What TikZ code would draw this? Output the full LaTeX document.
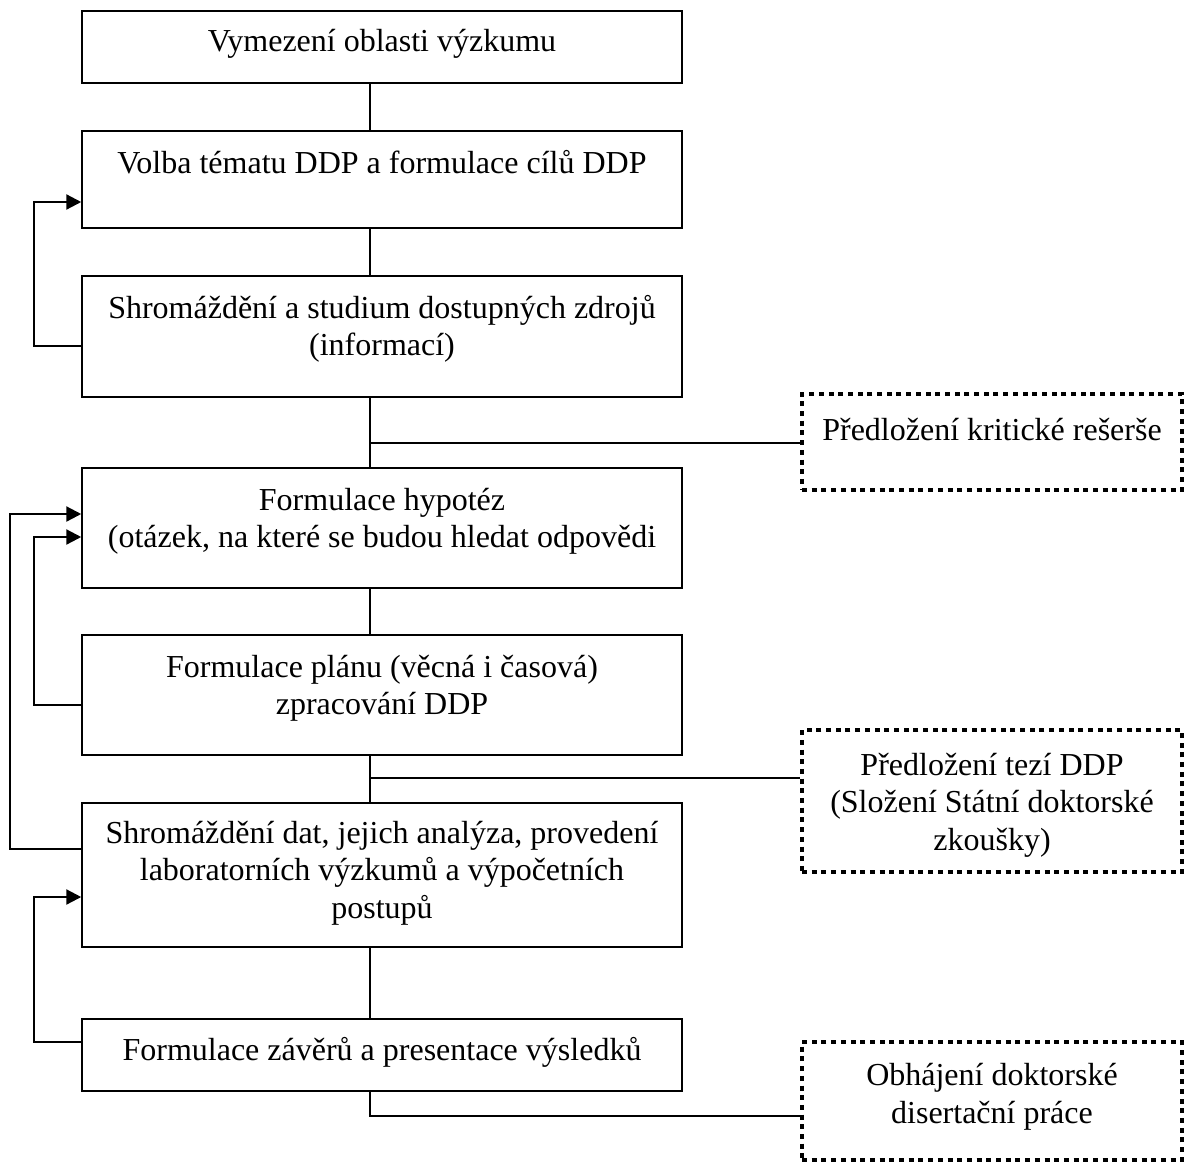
\documentclass[tikz,border=0pt]{standalone}
\usepackage{fontspec}
\setmainfont{Liberation Serif}
\usetikzlibrary{arrows.meta}
\tikzset{
  box/.style={draw=black, line width=1.5pt, minimum width=600pt, inner sep=0pt, fill=white},
  dbox/.style={draw=black, line width=4pt, dash pattern=on 5pt off 4.7pt, minimum width=380pt, inner sep=0pt},
  txt/.style={font=\fontsize{32}{37.5}\selectfont, align=center, inner sep=0pt, anchor=base},
  conn/.style={draw=black, line width=1.4pt},
  fb/.style={draw=black, line width=2.3pt, -{Triangle[length=15pt,width=15pt]}},
}
\begin{document}
\begin{tikzpicture}[x=1pt,y=-1pt]
\useasboundingbox[fill=white] (0,0) rectangle (1185,1162);
\coordinate (spine) at (370,0);
% main boxes
\node[box, minimum height=72pt]  (b1) at (382,47) {};
\node[box, minimum height=97pt]  (b2) at (382,179.5) {};
\node[box, minimum height=121pt] (b3) at (382,336.5) {};
\node[box, minimum height=120pt] (b4) at (382,528) {};
\node[box, minimum height=120pt] (b5) at (382,695) {};
\node[box, minimum height=144pt] (b6) at (382,875) {};
\node[box, minimum height=72pt]  (b7) at (382,1055) {};
% dotted boxes
\node[dbox, minimum height=96pt]  (d1) at (992,442) {};
\node[dbox, minimum height=142pt] (d2) at (992,801) {};
\node[dbox, minimum height=118pt] (d3) at (992,1101) {};
% texts (anchor base = baseline of the last line)
\node[txt] (t1) at (382,51) {Vymezení oblasti výzkumu};
\node[txt] (t2) at (382,173) {Volba tématu DDP a formulace cílů DDP};
\node[txt] (t3) at (382,355.5) {Shromáždění a studium dostupných zdrojů\\(informací)};
\node[txt] (t4) at (382,547.5) {Formulace hypotéz\\(otázek, na které se budou hledat odpovědi};
\node[txt] (t5) at (382,714.5) {Formulace plánu (věcná i časová)\\zpracování DDP};
\node[txt] (t6) at (382,918) {Shromáždění dat, jejich analýza, provedení\\laboratorních výzkumů a výpočetních\\postupů};
\node[txt] (t7) at (382,1060) {Formulace závěrů a presentace výsledků};
\node[txt] (u1) at (992,440) {Předložení kritické rešerše};
\node[txt] (u2) at (992,850) {Předložení tezí DDP\\(Složení Státní doktorské\\zkoušky)};
\node[txt] (u3) at (992,1123) {Obhájení doktorské\\disertační práce};
% spine connectors
\draw[conn] (b1.south -| spine) -- (b2.north -| spine);
\draw[conn] (b2.south -| spine) -- (b3.north -| spine);
\draw[conn] (b3.south -| spine) -- (b4.north -| spine);
\draw[conn] (b4.south -| spine) -- (b5.north -| spine);
\draw[conn] (b5.south -| spine) -- (b6.north -| spine);
\draw[conn] (b6.south -| spine) -- (b7.north -| spine);
% branches to dotted boxes
\coordinate (j1) at (370,443);
\coordinate (j2) at (370,778);
\coordinate (j3) at (370,1116);
\draw[conn] (j1) -- (j1 -| d1.west);
\draw[conn] (j2) -- (j2 -| d2.west);
\draw[conn] (b7.south -| spine) -- (j3) -- (j3 -| d3.west);
% feedback arrows
\draw[fb] (b3.west |- 0,346) -- (34,346) -- (34,202) -- (b2.west |- 0,202);
\draw[fb] (b6.west |- 0,849) -- (10,849) -- (10,514) -- (b4.west |- 0,514);
\draw[fb] (b5.west |- 0,705) -- (34,705) -- (34,537) -- (b4.west |- 0,537);
\draw[fb] (b7.west |- 0,1042) -- (34,1042) -- (34,897) -- (b6.west |- 0,897);
\end{tikzpicture}
\end{document}
